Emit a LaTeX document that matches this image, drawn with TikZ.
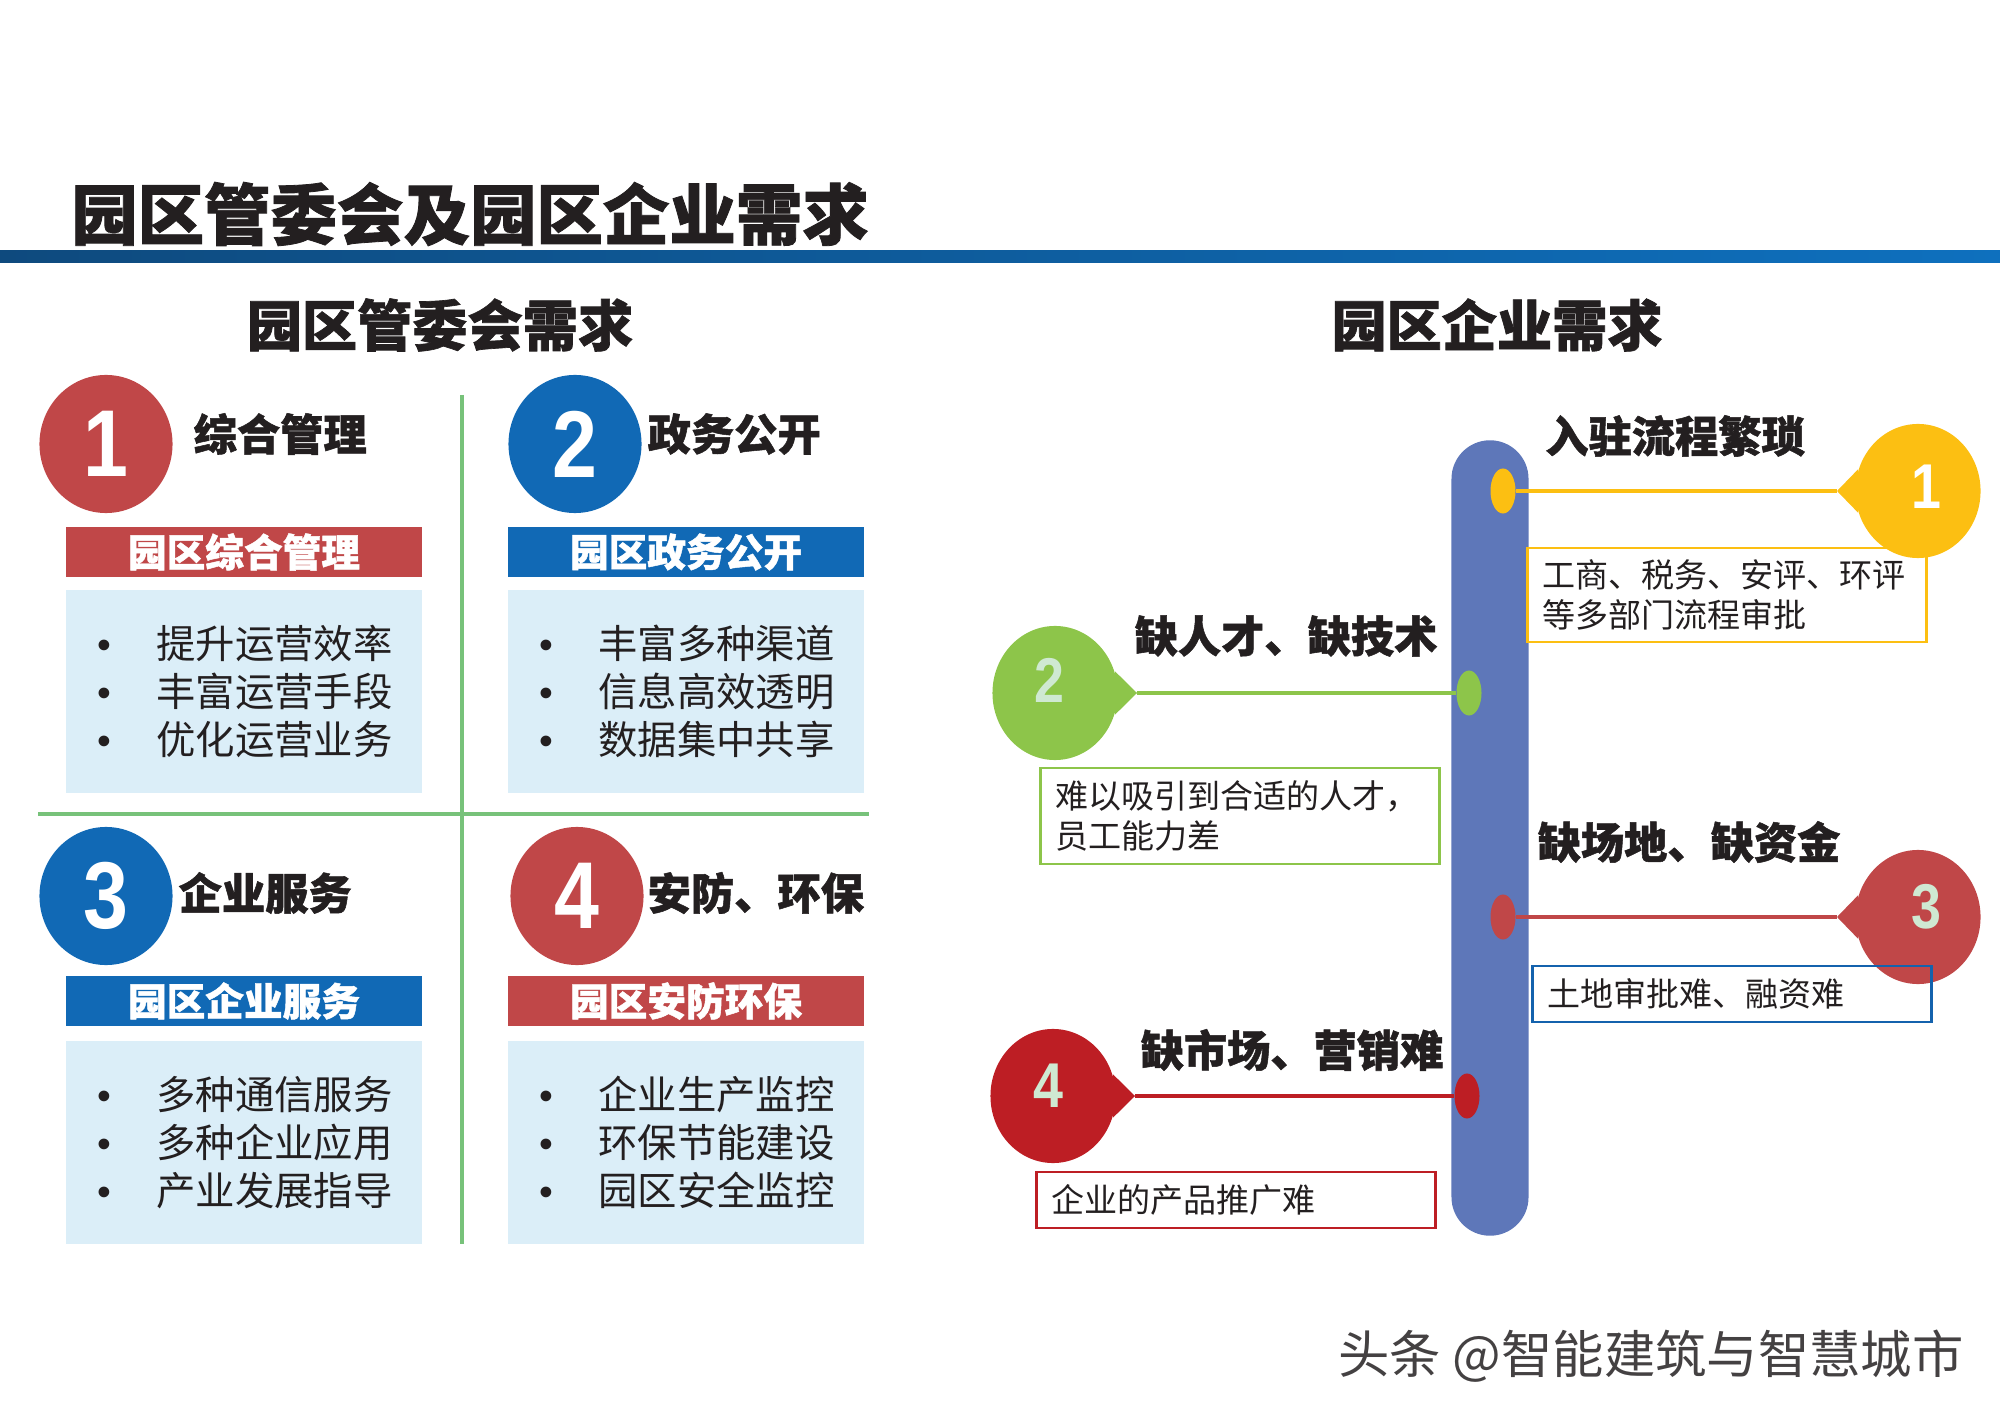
\documentclass[tikz,border=0pt]{standalone}
\usepackage{fontspec}
\setmainfont{Noto Sans CJK SC}[BoldFeatures={FakeBold=1.2}]
\newfontfamily\numfont{Liberation Sans}
\newfontfamily\digitfont{Liberation Sans}[FakeStretch=0.85]
\usetikzlibrary{positioning,shapes.geometric,backgrounds}

\definecolor{ink}{RGB}{35,31,32}
\definecolor{brick}{RGB}{192,71,72}
\definecolor{royal}{RGB}{17,105,181}
\definecolor{pale}{RGB}{219,238,248}
\definecolor{lgreen}{RGB}{119,194,122}
\definecolor{slate}{RGB}{94,119,185}
\definecolor{yel}{RGB}{252,191,18}
\definecolor{lime}{RGB}{141,197,74}
\definecolor{crimson}{RGB}{189,30,36}
\definecolor{mint}{RGB}{207,233,210}
\definecolor{navy}{RGB}{20,98,173}
\definecolor{barl}{RGB}{14,74,126}
\definecolor{barr}{RGB}{14,112,190}

\newcommand\itemdot{\hspace*{9pt}\makebox[16.7pt][l]{\numfont\textbullet}}

\begin{document}
\begin{tikzpicture}[x=0.01cm, y=0.01cm,
  ttl/.style={font=\bfseries\fontsize{18.9}{20}\selectfont, text=ink, inner sep=0},
  sub/.style={font=\bfseries\fontsize{15.7}{18}\selectfont, text=ink, inner sep=0},
  num/.style={ellipse, minimum width=1.33cm, minimum height=1.38cm, text=white, font=\digitfont\bfseries\fontsize{27}{27}\selectfont, inner sep=0},
  head/.style={font=\bfseries\fontsize{12.3}{14}\selectfont, text=ink, inner sep=0},
  bar/.style={minimum width=3.56cm, minimum height=0.5cm, text=white, font=\bfseries\fontsize{11}{12}\selectfont, inner sep=0},
  panel/.style={fill=pale, minimum width=3.56cm, minimum height=2.02cm, text width=3.56cm, align=left, font=\fontsize{11.2}{13.7}\selectfont, text=ink, inner sep=0},
  rule/.style={draw=lgreen, line width=1.1pt},
  dot/.style={ellipse, minimum width=0.25cm, minimum height=0.45cm, inner sep=0},
  ball/.style={ellipse, minimum width=1.25cm, minimum height=1.34cm, inner sep=0},
  digit/.style={font=\digitfont\bfseries\fontsize{18}{18}\selectfont, text=mint, inner sep=0},
  note/.style={draw, line width=0.8pt, text width=3.69cm, inner xsep=0.15cm, inner ysep=0, align=left, font=\fontsize{9.4}{11.6}\selectfont, text=ink},
  link/.style={line width=1.1pt}]
\useasboundingbox (0,0) rectangle (2000,-1422);

\node[ttl] (title) at (470,-214) {园区管委会及园区企业需求};
\shade[left color=barl, right color=barr] (0,-251) rectangle (2000,-263);
\node[sub] (subl) at (440,-325) {园区管委会需求};
\node[sub] (subr) at (1497,-325) {园区企业需求};

\draw[rule] (462,-395) -- (462,-1244) (38,-814) -- (869,-814);

\node[num, fill=brick] (q1) at (106,-444) {1};
\node[num, fill=royal] (q2) at (575,-444) {2};
\node[num, fill=royal] (q3) at (106,-896) {3};
\node[num, fill=brick] (q4) at (577,-896) {4};

\node[head, anchor=west] (h1) at (193,-434) {综合管理};
\node[head, anchor=west] (h2) at (647,-434) {政务公开};
\node[head, anchor=west] (h3) at (178,-893) {企业服务};
\node[head, anchor=west] (h4) at (647,-893) {安防、环保};

\node[bar, fill=brick] (b1) at (244,-552) {园区综合管理};
\node[bar, fill=royal] (b2) at (686,-552) {园区政务公开};
\node[bar, fill=royal] (b3) at (244,-1001) {园区企业服务};
\node[bar, fill=brick] (b4) at (686,-1001) {园区安防环保};

\node[panel, below=0.12cm of b1] (p1) {\itemdot 提升运营效率\\\itemdot 丰富运营手段\\\itemdot 优化运营业务};
\node[panel, below=0.12cm of b2] (p2) {\itemdot 丰富多种渠道\\\itemdot 信息高效透明\\\itemdot 数据集中共享};
\node[panel, below=0.14cm of b3] (p3) {\itemdot 多种通信服务\\\itemdot 多种企业应用\\\itemdot 产业发展指导};
\node[panel, below=0.14cm of b4] (p4) {\itemdot 企业生产监控\\\itemdot 环保节能建设\\\itemdot 园区安全监控};

\node[dot, fill=yel] (e1) at (1503,-491) {};
\node[dot, fill=lime] (e2) at (1469,-693) {};
\node[dot, fill=brick] (e3) at (1503,-917) {};
\node[dot, fill=crimson] (e4) at (1467,-1096) {};
\coordinate (t1) at (1837,-491);
\coordinate (t2) at (1137,-693);
\coordinate (t3) at (1837,-917);
\coordinate (t4) at (1135,-1096);
\begin{scope}[on background layer]
\node[fill=slate, minimum width=0.77cm, minimum height=7.95cm, rounded corners=0.385cm] (pillar) at (1490,-838) {};
\draw[link, yel] (e1) -- (t1);
\draw[link, lime] (e2) -- (t2);
\draw[link, brick] (e3) -- (t3);
\draw[link, crimson] (e4) -- (t4);
\end{scope}

\node[note, draw=yel, minimum height=0.94cm] (n1) at (1727,-595) {工商、税务、安评、环评\\等多部门流程审批};
\node[ball, fill=yel] (c1) at (1918,-491) {};
\fill[yel] (c1.160) -- (t1) -- (c1.200) -- cycle;
\node[digit, text=white] (d1) at ([shift={(8,4)}]c1) {1};

\node[note, draw=lime, minimum height=0.96cm] (n2) at (1240,-816) {难以吸引到合适的人才，\\员工能力差};
\node[ball, fill=lime] (c2) at (1055,-693) {};
\fill[lime] (c2.20) -- (t2) -- (c2.-20) -- cycle;
\node[digit] (d2) at ([shift={(-6,13)}]c2) {2};

\node[ball, fill=brick] (c3) at (1918,-917) {};
\fill[brick] (c3.160) -- (t3) -- (c3.200) -- cycle;
\node[digit] (d3) at ([shift={(8,10)}]c3) {3};
\node[note, draw=navy, minimum height=0.56cm] (n3) at (1732,-994) {土地审批难、融资难};

\node[ball, fill=crimson] (c4) at (1053,-1096) {};
\fill[crimson] (c4.20) -- (t4) -- (c4.-20) -- cycle;
\node[digit] (d4) at ([shift={(-5,10)}]c4) {4};
\node[note, draw=crimson, minimum height=0.56cm] (n4) at (1236,-1200) {企业的产品推广难};

\node[head] (r1) at (1675,-436) {入驻流程繁琐};
\node[head] (r2) at (1286,-636) {缺人才、缺技术};
\node[head] (r3) at (1689,-842) {缺场地、缺资金};
\node[head] (r4) at (1292,-1050) {缺市场、营销难};

\node[font=\fontsize{14.6}{16}\selectfont, text=ink!85] (wm) at (1651,-1356) {头条 @智能建筑与智慧城市};
\end{tikzpicture}
\end{document}
